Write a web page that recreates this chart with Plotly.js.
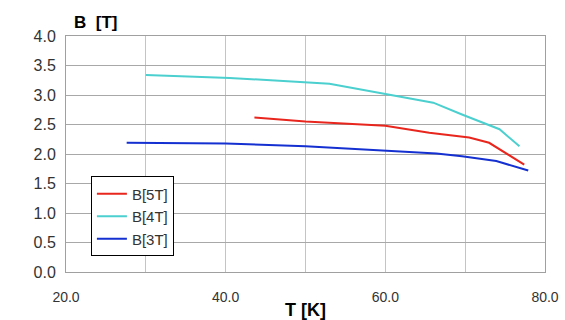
<!DOCTYPE html>
<html><head><meta charset="utf-8">
<script src="https://cdn.plot.ly/plotly-3.0.1.min.js"></script>
<style>html,body{margin:0;padding:0;background:#fff}</style>
</head><body>
<div id="chart" style="width:565px;height:320px"></div>
<script>
const seriesNames = ["B[5T]", "B[4T]", "B[3T]"];
const t5 = [43.6, 50.0, 60.0, 65.5, 70.5, 73.0, 77.4];
const b5 = [2.62, 2.55, 2.48, 2.36, 2.28, 2.19, 1.82];
const t4 = [30.0, 40.5, 53.0, 60.0, 66.0, 69.6, 74.3, 76.8];
const b4 = [3.34, 3.29, 3.19, 3.02, 2.87, 2.67, 2.42, 2.13];
const t3 = [27.6, 40.0, 50.0, 60.0, 66.4, 69.6, 73.9, 77.9];
const b3 = [2.19, 2.18, 2.13, 2.06, 2.01, 1.96, 1.88, 1.72];
const colors = ["#e8261e", "#4ccfcf", "#1530d0"];
const xTicks = [20, 30, 40, 50, 60, 70, 80];
const xTickText = ["20.0", "", "40.0", "", "60.0", "", "80.0"];
const yTicks = [0, 0.5, 1, 1.5, 2, 2.5, 3, 3.5, 4];
const yTickText = ["0.0","0.5","1.0","1.5","2.0","2.5","3.0","3.5","4.0"];

const xs = [t5, t4, t3], ys = [b5, b4, b3];
const traces = seriesNames.map((n, i) => ({
  x: xs[i], y: ys[i], name: n, type: "scatter", mode: "lines",
  line: {color: colors[i], width: 2}
}));
const font = {family: "Liberation Sans, Arial, sans-serif", color: "#333"};
const layout = {
  width: 565, height: 320,
  margin: {l: 66, r: 20, t: 36, b: 48},
  paper_bgcolor: "#fff", plot_bgcolor: "#fff",
  font: font,
  showlegend: true,
  legend: {x: 0.052, y: 0.405, xanchor: "left", yanchor: "top",
    bordercolor: "#000", borderwidth: 1, bgcolor: "#fff",
    font: {family: "Liberation Sans, Arial, sans-serif", size: 15, color: "#333"},
    tracegroupgap: 0, entrywidth: 50},
  xaxis: {range: [20, 80], tickvals: xTicks, ticktext: xTickText,
    showgrid: true, gridcolor: "#c4c4c4", gridwidth: 1,
    showline: true, linecolor: "#a0a0a0", mirror: true, zeroline: false,
    ticks: "", ticklabelstandoff: 12, tickfont: {size: 14, color: "#333"},
    title: {text: "<b>T [K]</b>", font: {size: 18, color: "#000"}, standoff: 0}},
  yaxis: {range: [0, 4], tickvals: yTicks, ticktext: yTickText,
    showgrid: true, gridcolor: "#a8a8a8", gridwidth: 1,
    showline: true, linecolor: "#a0a0a0", mirror: true, zeroline: false,
    ticks: "", ticklabelstandoff: 6, tickfont: {size: 16, color: "#333"}},
  annotations: [{text: "<b>B  [T]</b>", xref: "paper", yref: "paper",
    x: 0.012, y: 1.0, xanchor: "left", yanchor: "bottom", yshift: 2, showarrow: false,
    font: {family: "Liberation Sans, Arial, sans-serif", size: 17, color: "#000"}}]
};
Plotly.newPlot("chart", traces, layout, {displayModeBar: false, staticPlot: true});
</script>
</body></html>
